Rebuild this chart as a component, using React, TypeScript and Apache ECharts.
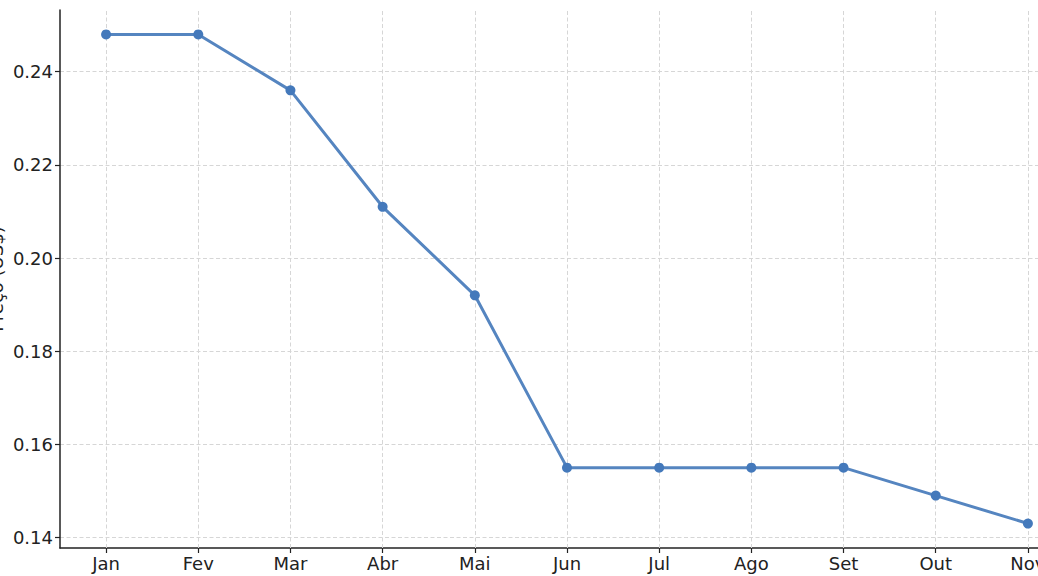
import React, { useEffect, useRef } from "react";
import * as echarts from "echarts";

const months = ["Jan", "Fev", "Mar", "Abr", "Mai", "Jun", "Jul", "Ago", "Set", "Out", "Nov"];
const prices = [0.248, 0.248, 0.236, 0.211, 0.192, 0.155, 0.155, 0.155, 0.155, 0.149, 0.143];
const yTicks = [0.14, 0.16, 0.18, 0.2, 0.22, 0.24];
const yName = "Preço (US$)";

export default function App() {
  const ref = useRef<HTMLDivElement>(null);
  useEffect(() => {
    if (!ref.current) return;
    const chart = echarts.init(ref.current, undefined, { renderer: "svg" });
    const font = "DejaVu Sans";
    const gridLine = { color: "#d6d6d6", type: [4, 2.5], width: 1 };
    chart.setOption({
      animation: false,
      backgroundColor: "#ffffff",
      grid: { left: 60, top: 10, width: 1014, height: 538, containLabel: false, outerBoundsMode: "none" },
      xAxis: {
        type: "category",
        data: months,
        boundaryGap: true,
        axisLine: { show: true, lineStyle: { color: "#222", width: 1.5 } },
        axisTick: { show: true, alignWithLabel: true, length: 5, lineStyle: { color: "#222", width: 1.2 } },
        axisLabel: { color: "#222", fontFamily: font, fontSize: 18, margin: 6, interval: 0 },
        splitLine: { show: false },
      },
      yAxis: {
        type: "value",
        min: 0.13775,
        max: 0.25325,
        name: yName,
        nameLocation: "middle",
        nameGap: 64,
        nameRotate: 90,
        nameMoveOverlap: false,
        nameTextStyle: { color: "#222", fontFamily: font, fontSize: 18, verticalAlign: "middle" },
        axisLine: { show: true, lineStyle: { color: "#222", width: 1.5 } },
        axisTick: { show: true, length: 5, customValues: yTicks, lineStyle: { color: "#222", width: 1.2 } },
        axisLabel: {
          color: "#222",
          fontFamily: font,
          fontSize: 18,
          margin: 7,
          customValues: yTicks,
          formatter: (v: number) => v.toFixed(2),
        },
        splitLine: { show: true, lineStyle: gridLine },
      },
      series: [
        {
          type: "line",
          data: prices,
          symbol: "circle",
          symbolSize: 10,
          z: 3,
          lineStyle: { color: "#5585c0", width: 3 },
          itemStyle: { color: "#4479bb" },
          markLine: {
            silent: true,
            symbol: ["none", "none"],
            label: { show: false },
            lineStyle: gridLine,
            z: 1,
            animation: false,
            data: months.map((m) => ({ xAxis: m })),
          },
        },
      ],
    });
    return () => chart.dispose();
  }, []);
  return (
    <div
      ref={ref}
      style={{ position: "fixed", left: 0, top: 0, width: 1038, height: 576 }}
    />
  );
}
